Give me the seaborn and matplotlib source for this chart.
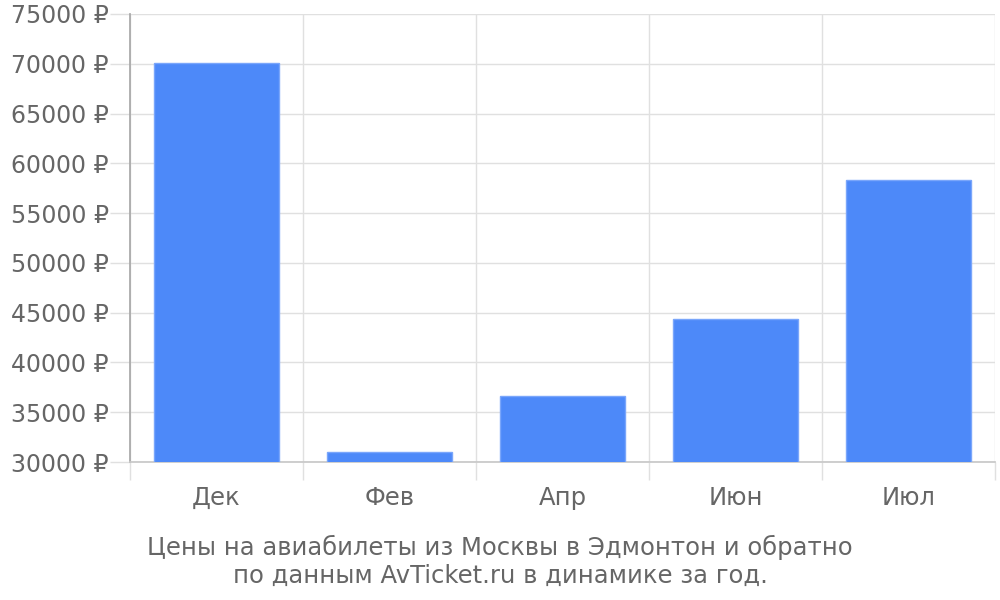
import numpy as np
import pandas as pd
import matplotlib
matplotlib.use("Agg")
import matplotlib.pyplot as plt
import seaborn as sns
from matplotlib.ticker import FixedLocator, FuncFormatter

# data
months = ["Дек", "Фев", "Апр", "Июн", "Июл"]
prices = [70100, 31000, 36650, 44400, 58350]
caption = "Цены на авиабилеты из Москвы в Эдмонтон и обратно\nпо данным AvTicket.ru в динамике за год."

df = pd.DataFrame({"month": months, "price": prices})

sns.set_theme(style="white")
plt.rcParams["font.family"] = ["DejaVu Sans"]

text_color = "#666666"
grid_color = "#e0e0e0"
axis_color = "#a8a8a8"

fig = plt.figure(figsize=(10, 6), dpi=100)
ax = fig.add_axes([0.13, 0.23, 0.865, 0.7467])

sns.barplot(data=df, x="month", y="price", color="#4d89f9", width=0.72,
            saturation=1, edgecolor="#7aa6fb", linewidth=1, ax=ax, zorder=3)

ax.set_ylim(30000, 75000)
ax.set_xlim(-0.5, len(months) - 0.5)
ax.yaxis.set_major_locator(FixedLocator(np.arange(30000, 75001, 5000)))
ax.yaxis.set_major_formatter(FuncFormatter(lambda v, p: f"{int(v)} ₽"))

# vertical grid at category boundaries, drawn as minor ticks
bounds = np.arange(-0.5, len(months), 1.0)
ax.xaxis.set_minor_locator(FixedLocator(bounds))
ax.grid(True, axis="y", which="major", color=grid_color, linewidth=1, zorder=0)
ax.grid(True, axis="x", which="minor", color=grid_color, linewidth=1, zorder=0)

ax.tick_params(axis="x", which="major", bottom=True, length=0, pad=17,
               labelsize=17.5, labelcolor=text_color)
ax.tick_params(axis="x", which="minor", bottom=True, length=13, width=1,
               color=grid_color, direction="out")
ax.tick_params(axis="y", which="major", left=True, length=14.4, width=1,
               color=grid_color, pad=1, labelsize=17, labelcolor=text_color)

for s in ["top", "right"]:
    ax.spines[s].set_visible(False)
ax.spines["left"].set_color(axis_color)
ax.spines["bottom"].set_color("#c8c8c8")
ax.set_xlabel("")
ax.set_ylabel("")

fig.text(0.5, 0.064, caption, ha="center", va="center", fontsize=17.5,
         color=text_color, linespacing=1.2)

fig.savefig("out.png", dpi=100)
